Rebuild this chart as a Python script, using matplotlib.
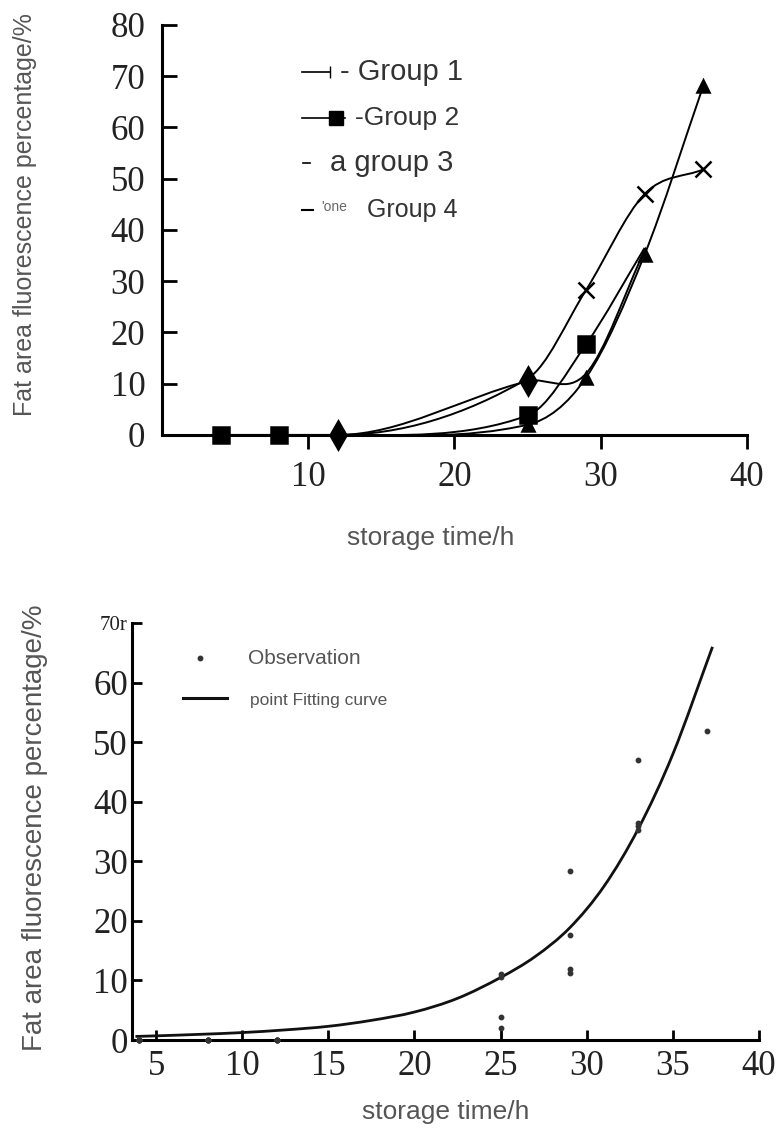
import numpy as np
import matplotlib
matplotlib.use("Agg")
import matplotlib.pyplot as plt
from matplotlib.path import Path
from matplotlib.patches import PathPatch

# fluorescence (%) of the four groups at each storage time (h)
time_h = [4, 8, 12, 25, 29, 33, 37]
group1 = [0, 0, 0, 11.0, 28.3, 47.0, 51.8]
group2 = [0, 0, 0, 3.8, 17.7, 36.5, np.nan]
group3 = [0, 0, 0, 10.5, 12.0, 36.0, np.nan]
group4 = [0, 0, 0, 2.0, 11.2, 35.2, 68.0]

# fitted curve read along its length
fit_time = [3.8, 5, 7.5, 10, 12.5, 15, 17.5, 20, 22.5, 25, 27, 29, 31, 33, 35, 37.3]
fit_value = [0.6, 0.7, 0.95, 1.25, 1.7, 2.3, 3.3, 4.7, 7.0, 10.5, 14.0, 18.8, 25.8, 35.5, 48.0, 66.0]

top_xticks = [10, 20, 30, 40]
top_yticks = [0, 10, 20, 30, 40, 50, 60, 70, 80]
bot_xticks = [5, 10, 15, 20, 25, 30, 35, 40]
bot_yticks = [0, 10, 20, 30, 40, 50, 60, 70]
bot_ylabels = ["0", "10", "20", "30", "40", "50", "60", "70r"]

ylab = "Fat area fluorescence percentage/%"
xlab = "storage time/h"

plt.rcParams["font.family"] = ["Liberation Sans", "DejaVu Sans"]
SERIF = "Liberation Serif"
GREY = "#555555"


def smooth_path(x, y):
    # cubic Bezier through the points, tangents flattened at turning points
    x = np.asarray(x, float)
    y = np.asarray(y, float)
    ok = ~np.isnan(y)
    x, y = x[ok], y[ok]
    n = len(x)
    sec = np.diff(y) / np.diff(x)
    m = np.zeros(n)
    m[0], m[-1] = sec[0], sec[-1]
    for i in range(1, n - 1):
        if sec[i - 1] * sec[i] > 0:
            m[i] = (y[i + 1] - y[i - 1]) / (x[i + 1] - x[i - 1])
    verts = [(x[0], y[0])]
    codes = [Path.MOVETO]
    for i in range(n - 1):
        h = x[i + 1] - x[i]
        verts += [(x[i] + h / 3, y[i] + m[i] * h / 3),
                  (x[i + 1] - h / 3, y[i + 1] - m[i + 1] * h / 3),
                  (x[i + 1], y[i + 1])]
        codes += [Path.CURVE4] * 3
    return Path(verts, codes)


fig = plt.figure(figsize=(7.82, 11.28), dpi=100)

# ---------------- upper panel: four groups ----------------
ax = fig.add_axes([0.2072, 0.6144, 0.748, 0.3635])
series = [
    (group1, "x", 11, [4, 5, 6]),
    (group4, "^", 9, [3, 4, 5, 6]),
    (group2, "s", 11, [0, 1, 3, 4]),
    (group3, "d", 14, [2, 3]),
]
for vals, mk, ms, every in series:
    ax.add_patch(PathPatch(smooth_path(time_h, vals), fill=False, ec="black", lw=1.4, zorder=2))
    ax.plot(time_h, vals, ls="none", marker=mk, ms=ms, mew=1.8, color="black",
            markevery=every, zorder=3, clip_on=False)

ax.set_xlim(0, 40)
ax.set_ylim(0, 80)
for s in ["top", "right"]:
    ax.spines[s].set_visible(False)
for s in ["left", "bottom"]:
    ax.spines[s].set_linewidth(2.2)
ax.set_xticks(top_xticks)
ax.set_yticks(top_yticks)
ax.tick_params(axis="x", direction="out", length=10, width=2, pad=9)
ax.tick_params(axis="y", direction="in", length=11, width=2, pad=12)
for lb in ax.get_xticklabels() + ax.get_yticklabels():
    lb.set_fontfamily(SERIF)
    lb.set_fontsize(25)
    lb.set_color("#222222")

ax.set_xlabel(xlab, fontsize=19, color=GREY, va="center")
ax.xaxis.set_label_coords(0.46, -0.251)
ax.set_ylabel(ylab, fontsize=18, color=GREY, va="center")
ax.yaxis.set_label_coords(-0.234, 0.537)

# legend, written out row by row
T = ax.transAxes
ax.plot([0.239, 0.287], [0.885, 0.885], transform=T, color="black", lw=1.2,
        marker="|", ms=8, markevery=[1], clip_on=False)
ax.text(0.304, 0.885, "- Group 1", transform=T, fontsize=21, color="#333333", va="center")
ax.plot([0.239, 0.313], [0.773, 0.773], transform=T, color="black", lw=1.2,
        clip_on=False)
ax.plot([0.297], [0.773], transform=T, color="black", marker="s", ms=10, clip_on=False)
ax.text(0.330, 0.773, "-Group 2", transform=T, fontsize=19, color="#333333", va="center")
ax.plot([0.241, 0.253], [0.663, 0.663], transform=T, color="black", lw=1.2, clip_on=False)
ax.text(0.288, 0.663, "a group 3", transform=T, fontsize=21, color="#333333", va="center")
ax.plot([0.239, 0.258], [0.549, 0.549], transform=T, color="black", lw=1.5, clip_on=False)
ax.text(0.272, 0.556, "'one", transform=T, fontsize=10, color="#666666", va="center")
ax.text(0.350, 0.549, "Group 4", transform=T, fontsize=18, color="#333333", va="center")

# ---------------- lower panel: observations and fit ----------------
bx = fig.add_axes([0.1688, 0.078, 0.8018, 0.3697])
# the 37 h reading of group 4 is left out of the fitted observations
observed = [(time_h, group1), (time_h, group2), (time_h, group3), (time_h[:6], group4[:6])]
for tx, vals in observed:
    bx.plot(tx, vals, ls="none", marker="o", ms=3.2, color="#333333", zorder=3, clip_on=False)
bx.add_patch(PathPatch(smooth_path(fit_time, fit_value), fill=False, ec="#111111", lw=2.0, zorder=2))

bx.set_xlim(3.6, 40)
bx.set_ylim(0, 70)
for s in ["top", "right"]:
    bx.spines[s].set_visible(False)
for s in ["left", "bottom"]:
    bx.spines[s].set_linewidth(2.2)
bx.set_xticks(bot_xticks)
bx.set_yticks(bot_yticks)
bx.set_yticklabels(bot_ylabels)
bx.tick_params(axis="x", direction="in", length=7, width=2, pad=7)
bx.tick_params(axis="y", direction="in", length=7, width=2, pad=3)
for lb in bx.get_xticklabels() + bx.get_yticklabels():
    lb.set_fontfamily(SERIF)
    lb.set_fontsize(25)
    lb.set_color("#222222")
bx.get_yticklabels()[-1].set_fontsize(15)

bx.set_xlabel(xlab, fontsize=19, color=GREY, va="center")
bx.xaxis.set_label_coords(0.50, -0.173)
bx.set_ylabel(ylab, fontsize=20, color=GREY, va="center")
bx.yaxis.set_label_coords(-0.155, 0.508)

T = bx.transAxes
bx.plot([0.108], [0.916], transform=T, ls="none", marker="o", ms=3.2, color="#333333", clip_on=False)
bx.text(0.185, 0.916, "Observation", transform=T, fontsize=15, color=GREY, va="center")
bx.plot([0.081, 0.152], [0.820, 0.820], transform=T, color="#111111", lw=2.2, clip_on=False)
bx.text(0.188, 0.815, "point Fitting curve", transform=T, fontsize=12.5, color=GREY, va="center")

fig.savefig("out.png", dpi=100)
